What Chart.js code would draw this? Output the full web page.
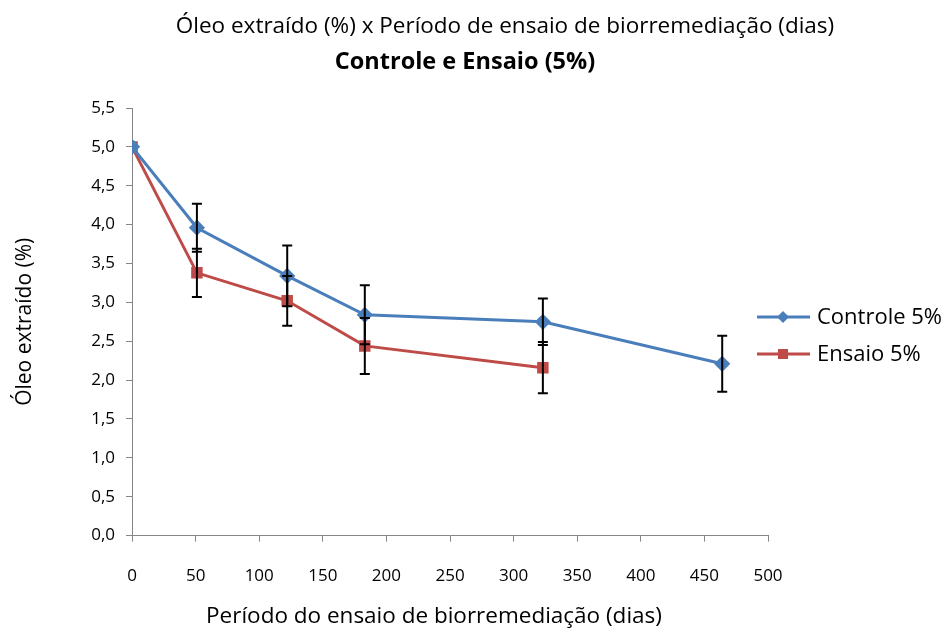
<!DOCTYPE html>
<html>
<head>
<meta charset="utf-8">
<script src="https://cdn.jsdelivr.net/npm/chart.js@4"></script>
<style>
  body { margin: 0; background: #fff; }
  #wrap { width: 952px; height: 632px; }
</style>
</head>
<body>
<div id="wrap"><canvas id="grafico"></canvas></div>
<script>
// dados
const dias = [0, 51, 122, 183, 323, 464];
const controle = [5.0, 3.96, 3.34, 2.84, 2.75, 2.21];
const controleErro = [0, 0.31, 0.39, 0.38, 0.30, 0.36];

const diasEnsaio = [0, 51, 122, 183, 323];
const ensaio = [5.0, 3.38, 3.02, 2.44, 2.16];
const ensaioErro = [0, 0.31, 0.32, 0.36, 0.33];

const xTicks = [0, 50, 100, 150, 200, 250, 300, 350, 400, 450, 500];
const yTicks = [0, 0.5, 1, 1.5, 2, 2.5, 3, 3.5, 4, 4.5, 5, 5.5];

const titulo = "Óleo extraído (%) x Período de ensaio de biorremediação (dias)";
const subtitulo = "Controle e Ensaio (5%)";
const tituloX = "Período do ensaio de biorremediação (dias)";

const FONTE = "'Open Sans', sans-serif";
const erros = [controleErro, ensaioErro];

// barras de erro desenhadas com as escalas do próprio chart
const barrasErro = {
    id: "barrasErro",
    afterDatasetsDraw(chart) {
        const ctx = chart.ctx;
        const xs = chart.scales.x, ys = chart.scales.y;
        ctx.save();
        ctx.strokeStyle = "#000";
        ctx.lineWidth = 2;
        chart.data.datasets.forEach((ds, i) => {
            ds.data.forEach((p, j) => {
                const e = erros[i][j];
                if (!e) return;
                const x = xs.getPixelForValue(p.x);
                const y1 = ys.getPixelForValue(p.y + e);
                const y2 = ys.getPixelForValue(p.y - e);
                ctx.beginPath();
                ctx.moveTo(x, y1); ctx.lineTo(x, y2);
                ctx.moveTo(x - 5, y1); ctx.lineTo(x + 5, y1);
                ctx.moveTo(x - 5, y2); ctx.lineTo(x + 5, y2);
                ctx.stroke();
            });
        });
        ctx.restore();
    }
};

// títulos e legenda à direita no estilo do Excel
const extras = {
    id: "extras",
    afterDraw(chart) {
        const ctx = chart.ctx;
        ctx.save();
        ctx.fillStyle = "#000";
        ctx.textAlign = "center";
        ctx.textBaseline = "middle";
        ctx.font = "22.5px " + FONTE;
        ctx.fillText(titulo, 505, 27);
        ctx.font = "bold 23.5px " + FONTE;
        ctx.fillText(subtitulo, 465, 62);
        ctx.font = "22.5px " + FONTE;
        ctx.fillText(tituloX, 434, 617);

        const left = chart.chartArea.right - 11;
        const linhas = [317, 354];
        ctx.textAlign = "left";
        chart.data.datasets.forEach((ds, i) => {
            const y = linhas[i];
            ctx.strokeStyle = ds.borderColor;
            ctx.lineWidth = 3;
            ctx.beginPath();
            ctx.moveTo(left, y); ctx.lineTo(left + 53, y);
            ctx.stroke();
            ctx.fillStyle = ds.backgroundColor;
            const cx = left + 26;
            ctx.beginPath();
            if (ds.pointStyle === "rectRot") {
                ctx.moveTo(cx, y - 6); ctx.lineTo(cx + 6, y);
                ctx.lineTo(cx, y + 6); ctx.lineTo(cx - 6, y);
            } else {
                ctx.rect(cx - 5, y - 5, 10, 10);
            }
            ctx.fill();
            ctx.fillStyle = "#000";
            ctx.font = "22px " + FONTE;
            ctx.fillText(ds.label, left + 60, y + 1);
        });
        ctx.restore();
    }
};

const fmt = v => v.toFixed(1).replace(".", ",");

new Chart(document.getElementById("grafico"), {
    type: "line",
    data: {
        datasets: [{
            label: "Controle 5%",
            data: dias.map((d, i) => ({ x: d, y: controle[i] })),
            borderColor: "#4A7EBB",
            backgroundColor: "#4A7EBB",
            borderWidth: 3,
            pointStyle: "rectRot",
            pointRadius: 6,
            pointHoverRadius: 6,
            tension: 0
        }, {
            label: "Ensaio 5%",
            data: diasEnsaio.map((d, i) => ({ x: d, y: ensaio[i] })),
            borderColor: "#BE4B48",
            backgroundColor: "#BE4B48",
            borderWidth: 3,
            pointStyle: "rect",
            pointRadius: 6,
            pointHoverRadius: 6,
            tension: 0
        }]
    },
    options: {
        responsive: true,
        maintainAspectRatio: false,
        animation: false,
        layout: { padding: { left: 8, right: 184, top: 108, bottom: 22 } },
        plugins: {
            legend: { display: false },
            tooltip: { enabled: false }
        },
        scales: {
            x: {
                type: "linear",
                min: 0, max: 500,
                afterBuildTicks: ax => { ax.ticks = xTicks.map(v => ({ value: v })); },
                ticks: { color: "#000", font: { family: FONTE, size: 17 }, padding: 24 },
                grid: { drawOnChartArea: false, drawTicks: true, tickLength: 6, color: "#868686" },
                border: { color: "#868686", width: 1 }
            },
            y: {
                min: 0, max: 5.5,
                afterBuildTicks: ax => { ax.ticks = yTicks.map(v => ({ value: v })); },
                ticks: { color: "#000", font: { family: FONTE, size: 17 }, padding: 11, callback: v => fmt(v) },
                grid: { drawOnChartArea: false, drawTicks: true, tickLength: 6, color: "#868686" },
                border: { color: "#868686", width: 1 },
                title: {
                    display: true,
                    text: "Óleo extraído (%)",
                    color: "#000",
                    font: { family: FONTE, size: 21 },
                    padding: { bottom: 43 }
                }
            }
        }
    },
    plugins: [barrasErro, extras]
});
</script>
</body>
</html>
